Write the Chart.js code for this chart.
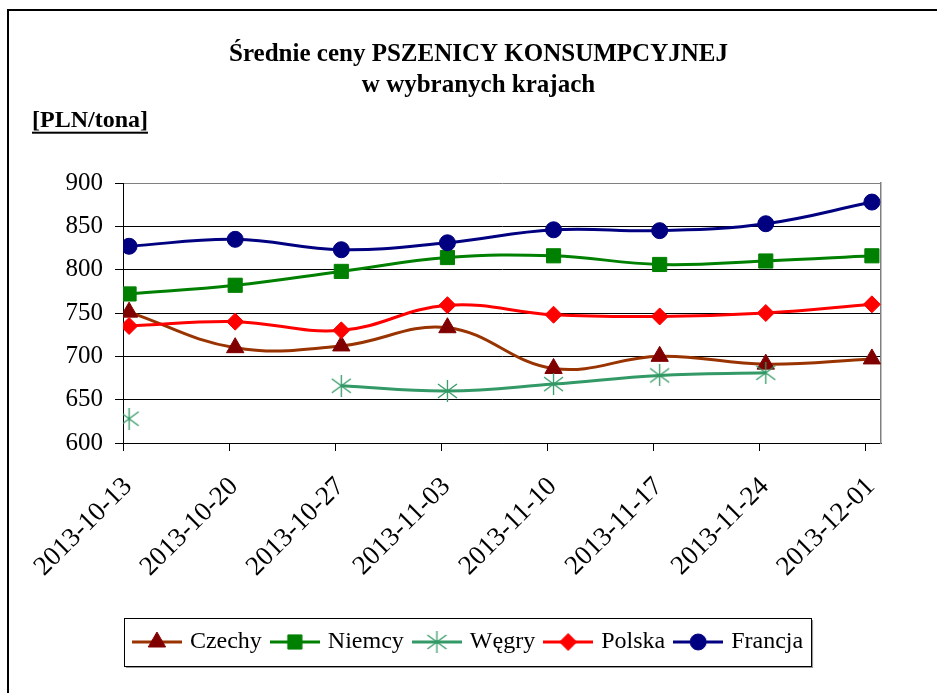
<!DOCTYPE html>
<html>
<head>
<meta charset="utf-8">
<script src="https://cdn.jsdelivr.net/npm/chart.js@4.4.0/dist/chart.umd.min.js"></script>
<style>
  html, body { margin: 0; padding: 0; background: #fff; }
</style>
</head>
<body>
<canvas id="priceChart" width="937" height="693"></canvas>
<script>
// weekly prices, PLN/tona
const dates = ['2013-10-13', '2013-10-20', '2013-10-27', '2013-11-03', '2013-11-10', '2013-11-17', '2013-11-24', '2013-12-01'];
const czechy = [751, 710, 712, 733, 686, 700, 691, 697];
const niemcy = [772, 782, 798, 814, 816, 806, 810, 816];
const wegry = [628, null, 666, 660, 668, 678, 681, null];
const polska = [735, 740, 730, 759, 748, 746, 750, 760];
const francja = [827, 835, 823, 831, 846, 845, 853, 878];
const yTicks = [600, 650, 700, 750, 800, 850, 900];

const FONT = "'Liberation Serif', 'Times New Roman', serif";
const DAY = 86400000;
const dayOf = d => (Date.parse(d) - Date.parse(dates[0])) / DAY;
// excel draws the point inside the day slot, not on the tick
const shift = 0.4;

function toPoints(values) {
    return values.map((v, i) => ({ x: dayOf(dates[i]) + shift, y: v }));
}

// excel style "*" marker: an X with a vertical bar
function asterisk(color) {
    const c = document.createElement('canvas');
    c.width = 21;
    c.height = 22;
    const g = c.getContext('2d');
    g.strokeStyle = color;
    g.lineWidth = 1.3;
    g.beginPath();
    g.moveTo(10.5, 0); g.lineTo(10.5, 22);
    g.moveTo(1, 4); g.lineTo(20, 18);
    g.moveTo(1, 18); g.lineTo(20, 4);
    g.stroke();
    return c;
}

// little line+marker picture for the legend
function sample(s) {
    const c = document.createElement('canvas');
    c.width = 50;
    c.height = 24;
    const g = c.getContext('2d');
    g.strokeStyle = s.line;
    g.lineWidth = 3;
    g.beginPath();
    g.moveTo(0, 12);
    g.lineTo(50, 12);
    g.stroke();
    g.fillStyle = s.point;
    g.strokeStyle = s.point;
    g.lineWidth = 1;
    Chart.helpers.drawPoint(g, { pointStyle: s.style, radius: s.r, borderWidth: 1, rotation: 0 }, 25, 12);
    return c;
}

const series = [
    { label: 'Czechy', data: czechy, line: '#993300', point: '#800000', style: 'triangle', r: 10 },
    { label: 'Niemcy', data: niemcy, line: '#008000', point: '#008000', style: 'rect', r: 10 },
    { label: 'Węgry', data: wegry, line: '#339966', point: '#339966', style: asterisk('#339966'), r: 10 },
    { label: 'Polska', data: polska, line: '#FF0000', point: '#FF0000', style: 'rectRot', r: 8.5 },
    { label: 'Francja', data: francja, line: '#000080', point: '#000080', style: 'circle', r: 8 }
];

const samples = series.map(sample);

const frame = {
    id: 'frame',
    afterLayout(chart) {
        // nudge title and legend sideways, as in the original sheet
        if (chart.titleBlock) {
            chart.titleBlock.left += 5;
            chart.titleBlock.right += 5;
        }
        if (chart.legend) {
            chart.legend.left -= 4;
            chart.legend.right -= 4;
        }
    },
    beforeDraw(chart) {
        const ctx = chart.ctx;
        ctx.save();
        ctx.fillStyle = '#fff';
        ctx.fillRect(0, 0, chart.width, chart.height);
        ctx.strokeStyle = '#000';
        ctx.lineWidth = 2;
        ctx.beginPath();
        ctx.moveTo(8, chart.height);
        ctx.lineTo(8, 10);
        ctx.lineTo(chart.width, 10);
        ctx.stroke();
        ctx.restore();
    },
    afterDraw(chart) {
        const ctx = chart.ctx;
        ctx.save();
        // box round the legend
        const boxes = chart.legend.legendHitBoxes;
        if (boxes && boxes.length) {
            const first = boxes[0];
            const last = boxes[boxes.length - 1];
            const x0 = first.left - 12;
            const x1 = last.left + last.width + 8;
            const y0 = first.top - 12;
            const y1 = first.top + first.height + 12;
            ctx.strokeStyle = '#999';
            ctx.lineWidth = 2;
            ctx.beginPath();
            ctx.moveTo(x1 + 1, y0 + 2);
            ctx.lineTo(x1 + 1, y1 + 1);
            ctx.lineTo(x0 + 2, y1 + 1);
            ctx.stroke();
            ctx.strokeStyle = '#000';
            ctx.lineWidth = 1;
            ctx.strokeRect(Math.round(x0) + 0.5, Math.round(y0) + 0.5, Math.round(x1 - x0), Math.round(y1 - y0));
        }
        // underline the unit text
        const sub = chart.boxes.find(b => b.options && b.options.text === '[PLN/tona]');
        if (sub) {
            ctx.font = 'bold 24px ' + FONT;
            const w = ctx.measureText('[PLN/tona]').width;
            const y = sub.top + sub.options.padding.top + 12 + 11;
            ctx.fillStyle = '#000';
            ctx.fillRect(sub.left, y, w, 2);
        }
        ctx.restore();
    }
};

new Chart(document.getElementById('priceChart'), {
    type: 'line',
    data: {
        datasets: series.map((s, i) => ({
            label: s.label,
            data: toPoints(s.data),
            borderColor: s.line,
            borderWidth: 3,
            backgroundColor: s.point,
            pointStyle: s.style,
            pointRadius: s.r,
            pointHoverRadius: s.r,
            pointBackgroundColor: s.point,
            pointBorderColor: s.point,
            pointBorderWidth: 1,
            tension: 0.4,
            spanGaps: false,
            fill: false,
            order: series.length - i
        }))
    },
    options: {
        responsive: false,
        animation: false,
        events: [],
        layout: { padding: { left: 32, right: 22, top: 0, bottom: 29 } },
        plugins: {
            title: {
                display: true,
                text: ['Średnie ceny PSZENICY KONSUMPCYJNEJ', 'w wybranych krajach'],
                color: '#000',
                font: { family: FONT, size: 25, weight: 'bold', lineHeight: 1.24 },
                padding: { top: 38.7, bottom: 3 }
            },
            subtitle: {
                display: true,
                text: '[PLN/tona]',
                align: 'start',
                color: '#000',
                font: { family: FONT, size: 24, weight: 'bold', lineHeight: 1 },
                padding: { top: 5, bottom: 50.3 }
            },
            legend: {
                position: 'bottom',
                labels: {
                    usePointStyle: true,
                    pointStyleWidth: 42,
                    padding: 12,
                    color: '#000',
                    font: { family: FONT, size: 24 },
                    generateLabels: chart => chart.data.datasets.map((ds, i) => ({
                        text: ds.label,
                        pointStyle: samples[i],
                        fillStyle: 'transparent',
                        strokeStyle: 'transparent',
                        lineWidth: 0,
                        hidden: false,
                        datasetIndex: i,
                        fontColor: '#000'
                    }))
                }
            },
            tooltip: { enabled: false }
        },
        scales: {
            x: {
                type: 'linear',
                min: 0,
                max: dayOf(dates[dates.length - 1]) + 1,
                afterBuildTicks: scale => { scale.ticks = dates.map(d => ({ value: dayOf(d) })); },
                afterFit: scale => { scale.height = 175; },
                ticks: {
                    autoSkip: false,
                    minRotation: 45,
                    maxRotation: 45,
                    padding: 20,
                    labelOffset: 5,
                    color: '#000',
                    font: { family: FONT, size: 27 },
                    callback: (v, i) => dates[i]
                },
                grid: { drawOnChartArea: false, drawTicks: true, tickLength: 8, color: '#000' },
                border: { color: '#000', width: 1 }
            },
            y: {
                min: 600,
                max: 900,
                afterBuildTicks: scale => { scale.ticks = yTicks.map(v => ({ value: v })); },
                afterFit: scale => { scale.width = 91; },
                ticks: { padding: 12, color: '#000', font: { family: FONT, size: 25 } },
                grid: {
                    color: c => (c.tick && c.tick.value === 900) ? '#808080' : '#000',
                    tickColor: '#000',
                    tickLength: 8,
                    lineWidth: 1
                },
                border: { color: '#000', width: 1 }
            },
            yR: {
                position: 'right',
                afterFit: scale => { scale.width = 34; },
                ticks: { display: false },
                grid: { display: false },
                border: { display: true, color: '#808080', width: 1.5 }
            }
        }
    },
    plugins: [frame]
});
</script>
</body>
</html>
